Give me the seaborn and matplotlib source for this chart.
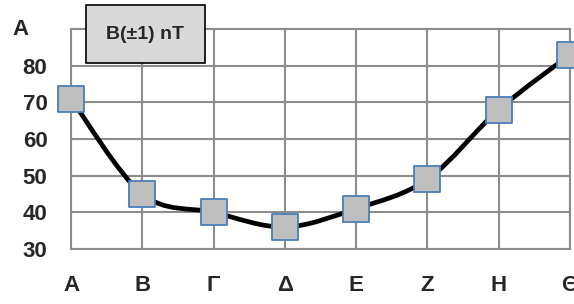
import numpy as np
import pandas as pd
import matplotlib
matplotlib.use("Agg")
import matplotlib.pyplot as plt
from matplotlib.path import Path
from matplotlib.patches import PathPatch
from matplotlib.ticker import MultipleLocator
import seaborn as sns

categories = ['A', 'B', 'Γ', 'Δ', 'E', 'Z', 'H', 'Θ']
values = [71, 45, 40, 36, 41, 49, 68, 83]
y_ticks = [30, 40, 50, 60, 70, 80]

df = pd.DataFrame({'pos': range(len(categories)), 'B': values})

sns.set_style('white')
plt.rcParams['font.family'] = ['Liberation Sans', 'DejaVu Sans']
plt.rcParams['font.weight'] = 'bold'

fig = plt.figure(figsize=(5.74, 3.04), dpi=100)
ax = fig.add_axes([0.1237, 0.181, 0.8693, 0.7236])

GRID = '#8C8C8C'

# smoothed line (excel style bezier through the points)
pts = np.column_stack([df['pos'].values, df['B'].values]).astype(float)
verts = [tuple(pts[0])]
codes = [Path.MOVETO]
n = len(pts)
for i in range(n - 1):
    p0 = pts[i - 1] if i > 0 else pts[i]
    p1 = pts[i]
    p2 = pts[i + 1]
    p3 = pts[i + 2] if i + 2 < n else pts[i + 1]
    c1 = p1 + (p2 - p0) / 6.0
    c2 = p2 - (p3 - p1) / 6.0
    verts += [tuple(c1), tuple(c2), tuple(p2)]
    codes += [Path.CURVE4] * 3
ax.add_patch(PathPatch(Path(verts, codes), facecolor='none', edgecolor='black',
                       lw=3.4, zorder=3, capstyle='round', joinstyle='round'))

sns.scatterplot(data=df, x='pos', y='B', marker='s', s=330, color='#BFBFBF',
                edgecolor='#4A7EBB', linewidth=1.3, zorder=4, clip_on=False, ax=ax)

ax.set_xlim(0, len(categories) - 1)
ax.set_ylim(30, 90)
ax.set_xticks(range(len(categories)))
ax.set_xticklabels(categories)
ax.set_yticks(y_ticks)
ax.yaxis.set_minor_locator(MultipleLocator(2))
ax.set_xlabel('')
ax.set_ylabel('')

ax.grid(True, which='major', color=GRID, lw=1.5)
ax.set_axisbelow(True)
for s in ax.spines.values():
    s.set_color(GRID)
    s.set_linewidth(1.5)

ax.tick_params(axis='y', which='both', direction='inout', length=12, width=1.3,
               color=GRID, labelsize=16, pad=11)
ax.tick_params(axis='x', which='both', length=0, labelsize=16, pad=19)
for lbl in ax.get_xticklabels() + ax.get_yticklabels():
    lbl.set_fontweight('bold')

fig.text(0.036, 0.903, 'A', fontsize=16, fontweight='bold', ha='center', va='center')
fig.text(0.253, 0.888, 'B(±1) nT', fontsize=14, fontweight='bold', ha='center', va='center',
         bbox=dict(boxstyle='square,pad=1.05', facecolor='#D9D9D9', edgecolor='black', lw=1.2))

fig.savefig('out.png', dpi=100)
